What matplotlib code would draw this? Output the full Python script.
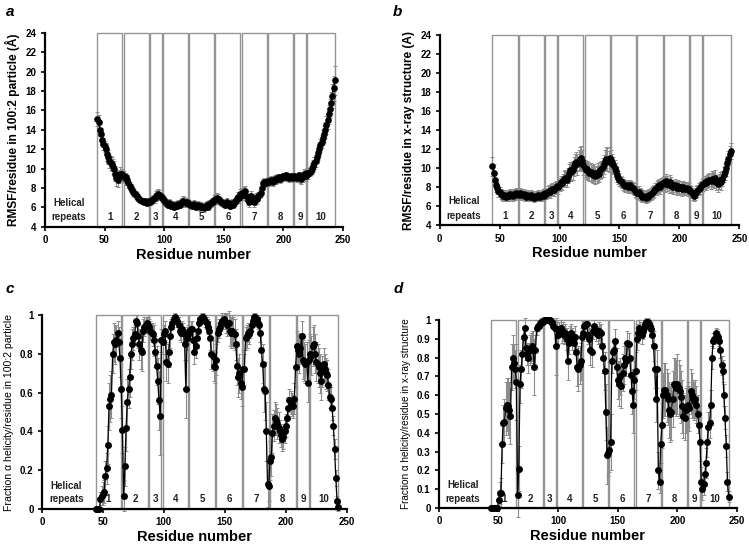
import matplotlib
matplotlib.use("Agg")
import matplotlib.pyplot as plt
from matplotlib.patches import Rectangle

plt.rcParams['font.family'] = ['Liberation Sans', 'DejaVu Sans']

# residues 44..243
residues = list(range(44, 244))

# helical repeat boundaries (first, last residue)
repeat_names = ['1', '2', '3', '4', '5', '6', '7', '8', '9', '10']
repeat_start = [44, 66, 88, 99, 121, 143, 165, 187, 209, 220]
repeat_end = [65, 87, 98, 120, 142, 164, 186, 208, 219, 243]

# a: RMSF per residue, 100:2 particle (A)
rmsf_particle = [
    15.1, 14.8, 14.0, 13.6, 13.0, 12.5, 12.3, 12.0, 11.5, 11.2,
    10.8, 10.6, 10.5, 10.2, 10.0, 9.5, 9.0, 8.8, 9.2, 9.5,
    9.3, 9.4, 9.2, 9.0, 9.1, 8.8, 8.5, 8.2, 8.0, 7.8,
    7.6, 7.5, 7.3, 7.2, 7.0, 6.9, 6.8, 6.7, 6.7, 6.6,
    6.7, 6.6, 6.5, 6.7, 6.6, 6.7, 6.8, 6.9, 7.0, 7.2,
    7.3, 7.4, 7.3, 7.2, 7.0, 6.9, 6.8, 6.6, 6.4, 6.3,
    6.5, 6.4, 6.2, 6.3, 6.1, 6.2, 6.3, 6.2, 6.4, 6.3,
    6.5, 6.6, 6.7, 6.6, 6.5, 6.6, 6.5, 6.4, 6.3, 6.2,
    6.3, 6.4, 6.2, 6.1, 6.3, 6.2, 6.0, 6.2, 6.1, 5.9,
    6.1, 6.2, 6.3, 6.1, 6.4, 6.5, 6.6, 6.6, 6.8, 6.9,
    7.0, 6.9, 6.8, 6.7, 6.6, 6.5, 6.4, 6.3, 6.5, 6.6,
    6.3, 6.2, 6.4, 6.5, 6.3, 6.6, 6.8, 6.9, 7.1, 7.0,
    7.4, 7.5, 7.3, 7.6, 7.7, 7.2, 6.8, 6.6, 7.0, 7.2,
    6.9, 6.6, 6.8, 7.0, 6.9, 7.2, 7.4, 7.5, 8.0, 8.5,
    8.6, 8.5, 8.6, 8.7, 8.6, 8.7, 8.8, 8.6, 8.8, 8.9,
    8.8, 9.0, 9.1, 8.9, 9.0, 9.1, 9.2, 9.1, 9.3, 9.2,
    9.1, 9.0, 9.2, 9.1, 9.0, 9.2, 9.1, 9.0, 9.2, 9.3,
    9.0, 8.9, 9.1, 9.5, 9.4, 9.2, 9.6, 9.4, 9.7, 9.8,
    10.0, 10.3, 10.6, 10.8, 11.2, 11.6, 12.0, 12.4, 12.8, 13.2,
    13.6, 14.0, 14.5, 15.0, 15.6, 16.2, 16.8, 17.5, 18.3, 19.1,
]
rmsf_particle_err = [
    0.7, 0.7, 0.6, 0.6, 0.6, 0.6, 0.6, 0.6, 0.7, 0.7,
    0.7, 0.7, 0.7, 0.8, 0.8, 0.8, 0.8, 0.7, 0.7, 0.7,
    0.6, 0.6, 0.6, 0.5, 0.5, 0.5, 0.5, 0.4, 0.4, 0.4,
    0.4, 0.4, 0.4, 0.4, 0.3, 0.3, 0.3, 0.3, 0.3, 0.3,
    0.3, 0.3, 0.3, 0.3, 0.3, 0.3, 0.4, 0.4, 0.5, 0.5,
    0.5, 0.5, 0.5, 0.4, 0.4, 0.4, 0.4, 0.4, 0.4, 0.4,
    0.4, 0.4, 0.4, 0.4, 0.4, 0.4, 0.4, 0.4, 0.4, 0.4,
    0.4, 0.4, 0.5, 0.5, 0.4, 0.4, 0.4, 0.4, 0.4, 0.4,
    0.4, 0.4, 0.4, 0.4, 0.4, 0.4, 0.4, 0.4, 0.4, 0.4,
    0.4, 0.4, 0.4, 0.4, 0.4, 0.4, 0.4, 0.4, 0.5, 0.5,
    0.5, 0.5, 0.4, 0.4, 0.4, 0.4, 0.4, 0.4, 0.4, 0.4,
    0.4, 0.4, 0.4, 0.4, 0.4, 0.4, 0.4, 0.4, 0.5, 0.5,
    0.5, 0.5, 0.5, 0.5, 0.5, 0.5, 0.5, 0.5, 0.5, 0.5,
    0.5, 0.5, 0.5, 0.5, 0.5, 0.4, 0.4, 0.4, 0.4, 0.4,
    0.4, 0.4, 0.4, 0.4, 0.4, 0.4, 0.4, 0.4, 0.4, 0.4,
    0.4, 0.4, 0.4, 0.4, 0.4, 0.4, 0.4, 0.4, 0.4, 0.4,
    0.4, 0.4, 0.4, 0.4, 0.4, 0.4, 0.4, 0.4, 0.4, 0.4,
    0.5, 0.5, 0.5, 0.5, 0.5, 0.5, 0.5, 0.5, 0.5, 0.5,
    0.6, 0.6, 0.6, 0.6, 0.6, 0.7, 0.7, 0.7, 0.7, 0.8,
    0.8, 0.8, 0.9, 0.9, 1.0, 1.0, 1.1, 1.2, 1.3, 1.5,
]

# b: RMSF per residue, x-ray structure (A)
rmsf_xray = [
    10.2, 9.5, 8.8, 8.2, 7.9, 7.6, 7.5, 7.3, 7.2, 7.1,
    7.2, 7.0, 7.1, 7.2, 7.1, 7.3, 7.2, 7.1, 7.3, 7.2,
    7.4, 7.3, 7.2, 7.4, 7.3, 7.2, 7.3, 7.1, 7.0, 7.2,
    7.1, 7.0, 7.2, 7.1, 7.0, 6.9, 7.1, 7.0, 7.2, 7.1,
    7.0, 7.2, 7.3, 7.1, 7.4, 7.3, 7.5, 7.6, 7.5, 7.7,
    7.8, 7.7, 7.9, 8.0, 8.1, 8.0, 8.3, 8.5, 8.4, 8.7,
    8.9, 9.0, 8.8, 9.2, 9.5, 9.8, 9.6, 9.8, 10.2, 10.5,
    10.7, 10.4, 10.8, 11.0, 11.1, 10.8, 10.3, 10.0, 9.8, 9.9,
    9.7, 9.5, 9.6, 9.4, 9.3, 9.5, 9.2, 9.3, 9.6, 9.4,
    9.8, 9.9, 10.1, 10.4, 10.8, 11.0, 10.9, 10.7, 11.1, 10.9,
    10.5, 10.3, 10.0, 9.7, 9.3, 9.0, 8.8, 8.6, 8.5, 8.3,
    8.2, 8.1, 8.2, 8.0, 8.1, 8.2, 8.0, 7.9, 7.8, 7.6,
    7.5, 7.4, 7.5, 7.3, 7.2, 7.0, 7.1, 7.0, 6.9, 7.1,
    7.0, 7.2, 7.3, 7.4, 7.5, 7.6, 7.8, 7.9, 8.1, 8.2,
    8.0, 8.3, 8.4, 8.5, 8.3, 8.6, 8.4, 8.2, 8.5, 8.3,
    8.1, 8.0, 8.2, 8.0, 7.9, 8.1, 7.9, 8.0, 7.8, 8.0,
    7.9, 7.8, 7.9, 7.7, 7.8, 7.6, 7.5, 7.3, 7.1, 7.3,
    7.5, 7.6, 7.8, 7.9, 8.1, 8.2, 8.3, 8.5, 8.4, 8.6,
    8.7, 8.8, 8.6, 8.9, 8.8, 8.7, 9.0, 8.5, 8.3, 8.6,
    8.8, 8.5, 8.9, 9.3, 9.6, 10.0, 10.5, 11.0, 11.5, 11.8,
]
rmsf_xray_err = [
    1.0, 0.9, 0.8, 0.7, 0.6, 0.6, 0.5, 0.5, 0.5, 0.5,
    0.5, 0.5, 0.5, 0.5, 0.5, 0.5, 0.5, 0.5, 0.5, 0.5,
    0.5, 0.5, 0.5, 0.5, 0.5, 0.5, 0.5, 0.5, 0.5, 0.5,
    0.5, 0.5, 0.5, 0.5, 0.5, 0.5, 0.5, 0.5, 0.5, 0.5,
    0.5, 0.5, 0.5, 0.5, 0.5, 0.5, 0.6, 0.6, 0.6, 0.6,
    0.6, 0.6, 0.6, 0.6, 0.6, 0.7, 0.7, 0.7, 0.7, 0.7,
    0.8, 0.8, 0.8, 0.8, 0.9, 0.9, 0.9, 1.0, 1.0, 1.0,
    1.0, 1.1, 1.1, 1.2, 1.2, 1.1, 1.0, 0.9, 0.9, 0.9,
    0.9, 0.9, 0.9, 0.9, 0.9, 0.9, 0.9, 0.9, 0.9, 0.9,
    0.9, 0.9, 1.0, 1.0, 1.1, 1.2, 1.2, 1.1, 1.1, 1.0,
    1.0, 0.9, 0.9, 0.8, 0.8, 0.7, 0.7, 0.6, 0.6, 0.6,
    0.6, 0.6, 0.6, 0.6, 0.6, 0.6, 0.6, 0.6, 0.6, 0.6,
    0.6, 0.6, 0.6, 0.6, 0.6, 0.6, 0.6, 0.6, 0.6, 0.6,
    0.6, 0.6, 0.6, 0.6, 0.6, 0.6, 0.6, 0.7, 0.7, 0.7,
    0.7, 0.7, 0.7, 0.7, 0.8, 0.8, 0.8, 0.8, 0.8, 0.8,
    0.7, 0.7, 0.7, 0.7, 0.7, 0.7, 0.7, 0.7, 0.7, 0.7,
    0.6, 0.6, 0.6, 0.6, 0.6, 0.6, 0.6, 0.6, 0.6, 0.6,
    0.6, 0.6, 0.6, 0.6, 0.6, 0.7, 0.7, 0.7, 0.7, 0.7,
    0.7, 0.7, 0.8, 0.8, 0.8, 0.8, 0.8, 0.8, 0.8, 0.8,
    0.8, 0.8, 0.8, 0.8, 0.8, 0.8, 0.8, 0.8, 0.8, 0.8,
]

# c: fraction alpha helicity, 100:2 particle
helix_particle = [
    0.0, 0.0, 0.0, 0.0, 0.05, 0.07, 0.08, 0.09, 0.17, 0.21,
    0.33, 0.53, 0.57, 0.59, 0.80, 0.86, 0.85, 0.87, 0.91, 0.86,
    0.78, 0.62, 0.41, 0.07, 0.22, 0.42, 0.55, 0.62, 0.68, 0.80,
    0.85, 0.88, 0.90, 0.97, 0.96, 0.89, 0.85, 0.82, 0.81, 0.92,
    0.94, 0.95, 0.96, 0.95, 0.94, 0.92, 0.91, 0.90, 0.87, 0.81,
    0.74, 0.66, 0.56, 0.48, 0.87, 0.86, 0.90, 0.92, 0.76, 0.75,
    0.81, 0.89, 0.94, 0.96, 0.98, 0.99, 0.98, 0.97, 0.95, 0.92,
    0.91, 0.93, 0.91, 0.85, 0.62, 0.88, 0.90, 0.92, 0.93, 0.93,
    0.87, 0.81, 0.84, 0.88, 0.92, 0.96, 0.98, 0.99, 0.99, 0.98,
    0.97, 0.96, 0.94, 0.92, 0.88, 0.80, 0.79, 0.74, 0.73, 0.77,
    0.91, 0.93, 0.94, 0.96, 0.97, 0.98, 0.97, 0.96, 0.95, 0.96,
    0.92, 0.91, 0.92, 0.91, 0.90, 0.85, 0.74, 0.68, 0.70, 0.65,
    0.63, 0.72, 0.72, 0.88, 0.89, 0.91, 0.90, 0.92, 0.95, 0.97,
    0.99, 0.99, 0.98, 0.96, 0.95, 0.91, 0.82, 0.75, 0.62, 0.61,
    0.40, 0.13, 0.12, 0.25, 0.27, 0.39, 0.43, 0.47, 0.46, 0.44,
    0.42, 0.40, 0.38, 0.36, 0.37, 0.40, 0.43, 0.47, 0.52, 0.56,
    0.55, 0.54, 0.53, 0.57, 0.73, 0.84, 0.82, 0.80, 0.83, 0.89,
    0.77, 0.76, 0.75, 0.76, 0.65, 0.77, 0.80, 0.79, 0.84, 0.85,
    0.80, 0.76, 0.75, 0.73, 0.70, 0.66, 0.71, 0.75, 0.72, 0.70,
    0.69, 0.64, 0.58, 0.57, 0.52, 0.43, 0.31, 0.16, 0.04, 0.01,
]
helix_particle_err = [
    0.0, 0.0, 0.0, 0.01, 0.04, 0.05, 0.06, 0.06, 0.08, 0.08,
    0.10, 0.12, 0.12, 0.12, 0.10, 0.10, 0.10, 0.08, 0.06, 0.08,
    0.10, 0.15, 0.12, 0.08, 0.10, 0.12, 0.12, 0.10, 0.10, 0.08,
    0.08, 0.06, 0.05, 0.03, 0.04, 0.06, 0.08, 0.10, 0.10, 0.06,
    0.05, 0.04, 0.03, 0.04, 0.04, 0.05, 0.05, 0.06, 0.08, 0.08,
    0.10, 0.12, 0.15, 0.20, 0.06, 0.06, 0.05, 0.05, 0.10, 0.10,
    0.08, 0.06, 0.04, 0.03, 0.02, 0.02, 0.02, 0.03, 0.04, 0.05,
    0.05, 0.04, 0.05, 0.08, 0.15, 0.06, 0.05, 0.05, 0.04, 0.04,
    0.06, 0.06, 0.06, 0.05, 0.04, 0.03, 0.02, 0.02, 0.02, 0.02,
    0.03, 0.03, 0.04, 0.05, 0.06, 0.08, 0.08, 0.08, 0.08, 0.08,
    0.05, 0.05, 0.04, 0.04, 0.04, 0.03, 0.04, 0.05, 0.06, 0.06,
    0.08, 0.08, 0.08, 0.08, 0.08, 0.08, 0.10, 0.10, 0.10, 0.08,
    0.10, 0.10, 0.08, 0.06, 0.06, 0.05, 0.05, 0.04, 0.03, 0.02,
    0.02, 0.02, 0.02, 0.03, 0.04, 0.05, 0.08, 0.10, 0.12, 0.15,
    0.15, 0.12, 0.08, 0.10, 0.10, 0.10, 0.08, 0.08, 0.08, 0.08,
    0.08, 0.06, 0.06, 0.06, 0.06, 0.06, 0.06, 0.06, 0.06, 0.06,
    0.06, 0.06, 0.06, 0.08, 0.10, 0.08, 0.08, 0.10, 0.08, 0.08,
    0.10, 0.10, 0.10, 0.10, 0.10, 0.10, 0.10, 0.10, 0.10, 0.10,
    0.10, 0.10, 0.10, 0.10, 0.10, 0.10, 0.08, 0.08, 0.08, 0.08,
    0.08, 0.08, 0.06, 0.06, 0.06, 0.05, 0.05, 0.04, 0.03, 0.02,
]

# d: fraction alpha helicity, x-ray structure
helix_xray = [
    0.0, 0.0, 0.0, 0.0, 0.0, 0.0, 0.04, 0.08, 0.08, 0.34,
    0.45, 0.46, 0.53, 0.55, 0.54, 0.52, 0.49, 0.75, 0.80, 0.77,
    0.74, 0.67, 0.07, 0.21, 0.66, 0.74, 0.82, 0.91, 0.96, 0.85,
    0.82, 0.80, 0.84, 0.85, 0.86, 0.84, 0.75, 0.84, 0.96, 0.97,
    0.97, 0.98, 0.99, 0.99, 1.0, 1.0, 1.0, 1.0, 1.0, 1.0,
    0.99, 0.99, 0.97, 0.96, 0.86, 0.95, 0.92, 0.95, 0.96, 0.93,
    0.94, 0.92, 0.93, 0.90, 0.78, 0.88, 0.92, 0.93, 0.90, 0.88,
    0.91, 0.83, 0.75, 0.74, 0.76, 0.78, 0.91, 0.93, 0.97, 0.98,
    0.98, 0.92, 0.90, 0.84, 0.83, 0.94, 0.97, 0.95, 0.93, 0.92,
    0.94, 0.93, 0.93, 0.86, 0.80, 0.73, 0.51, 0.28, 0.29, 0.31,
    0.35, 0.78, 0.83, 0.84, 0.89, 0.75, 0.68, 0.66, 0.70, 0.65,
    0.72, 0.76, 0.80, 0.78, 0.88, 0.87, 0.80, 0.71, 0.62, 0.55,
    0.68, 0.73, 0.90, 0.93, 0.96, 0.95, 0.92, 0.94, 0.96, 0.98,
    0.99, 0.99, 0.98, 0.97, 0.95, 0.92, 0.86, 0.74, 0.58, 0.74,
    0.20, 0.14, 0.34, 0.44, 0.60, 0.63, 0.63, 0.60, 0.58, 0.52,
    0.50, 0.51, 0.58, 0.66, 0.65, 0.64, 0.66, 0.64, 0.62, 0.59,
    0.54, 0.49, 0.48, 0.52, 0.53, 0.55, 0.53, 0.62, 0.60, 0.58,
    0.57, 0.58, 0.55, 0.50, 0.44, 0.35, 0.14, 0.10, 0.13, 0.18,
    0.24, 0.35, 0.43, 0.45, 0.55, 0.80, 0.89, 0.90, 0.93, 0.92,
    0.91, 0.89, 0.84, 0.76, 0.73, 0.60, 0.48, 0.33, 0.14, 0.06,
]
helix_xray_err = [
    0.0, 0.0, 0.0, 0.0, 0.0, 0.01, 0.03, 0.06, 0.08, 0.10,
    0.10, 0.12, 0.14, 0.14, 0.15, 0.15, 0.15, 0.12, 0.12, 0.10,
    0.10, 0.20, 0.12, 0.12, 0.10, 0.10, 0.08, 0.06, 0.05, 0.06,
    0.06, 0.08, 0.08, 0.08, 0.08, 0.10, 0.15, 0.08, 0.04, 0.03,
    0.02, 0.02, 0.02, 0.01, 0.01, 0.01, 0.01, 0.01, 0.01, 0.01,
    0.01, 0.02, 0.02, 0.02, 0.15, 0.05, 0.05, 0.04, 0.04, 0.05,
    0.05, 0.05, 0.05, 0.06, 0.10, 0.06, 0.05, 0.05, 0.06, 0.06,
    0.06, 0.08, 0.10, 0.12, 0.10, 0.10, 0.05, 0.04, 0.02, 0.02,
    0.02, 0.05, 0.06, 0.08, 0.08, 0.04, 0.03, 0.03, 0.04, 0.05,
    0.05, 0.05, 0.05, 0.06, 0.08, 0.10, 0.15, 0.15, 0.12, 0.12,
    0.15, 0.06, 0.06, 0.06, 0.06, 0.10, 0.10, 0.12, 0.10, 0.12,
    0.10, 0.10, 0.08, 0.08, 0.06, 0.06, 0.08, 0.10, 0.12, 0.15,
    0.10, 0.10, 0.06, 0.05, 0.04, 0.04, 0.05, 0.04, 0.03, 0.02,
    0.02, 0.02, 0.02, 0.03, 0.04, 0.05, 0.08, 0.10, 0.12, 0.10,
    0.10, 0.06, 0.10, 0.12, 0.12, 0.14, 0.14, 0.14, 0.14, 0.15,
    0.15, 0.15, 0.15, 0.14, 0.15, 0.15, 0.16, 0.15, 0.14, 0.14,
    0.14, 0.12, 0.12, 0.12, 0.12, 0.12, 0.12, 0.12, 0.12, 0.10,
    0.10, 0.10, 0.10, 0.10, 0.10, 0.10, 0.08, 0.06, 0.06, 0.06,
    0.08, 0.08, 0.08, 0.08, 0.08, 0.06, 0.04, 0.03, 0.03, 0.03,
    0.03, 0.03, 0.04, 0.05, 0.06, 0.06, 0.06, 0.06, 0.05, 0.03,
]


def draw_panel(ax, y, err, ylim, yticks, yticklabels, ylabel, ylabel_kw,
               text_y, ms):
    # helical repeat boxes
    for s, e, name in zip(repeat_start, repeat_end, repeat_names):
        ax.add_patch(Rectangle((s, ylim[0]), e - s, ylim[1] - ylim[0],
                               fill=False, edgecolor='#959595', lw=1.0,
                               zorder=1, clip_on=False))
        ax.text((s + e) / 2, text_y[0], name, ha='center', va='center',
                fontsize=7, fontweight='bold', color='#222222')
    ax.text(20, text_y[1], 'Helical', ha='center', va='center',
            fontsize=7, fontweight='bold', color='#222222')
    ax.text(20, text_y[0], 'repeats', ha='center', va='center',
            fontsize=7, fontweight='bold', color='#222222')

    ax.errorbar(residues, y, yerr=err, fmt='none', ecolor='#8c8c8c',
                elinewidth=0.8, capsize=1.5, capthick=0.7, zorder=2,
                clip_on=False)
    ax.plot(residues, y, '-', color='black', lw=0.9, zorder=3,
            clip_on=False)
    ax.plot(residues, y, 'o', color='black', ms=ms, zorder=4,
            clip_on=False, markeredgewidth=0)

    ax.set_xlim(0, 250)
    ax.set_ylim(*ylim)
    ax.set_xticks([0, 50, 100, 150, 200, 250])
    ax.set_yticks(yticks)
    ax.set_yticklabels(yticklabels)
    for sp in ['top', 'right']:
        ax.spines[sp].set_visible(False)
    for sp in ['left', 'bottom']:
        ax.spines[sp].set_linewidth(1.6)
    ax.tick_params(direction='out', length=3, width=1.2, labelsize=7,
                   pad=3)
    for lab in ax.get_xticklabels() + ax.get_yticklabels():
        lab.set_fontweight('bold')
    ax.set_xlabel('Residue number', fontsize=10.5, fontweight='bold',
                  labelpad=2)
    ax.set_ylabel(ylabel, **ylabel_kw)


fig = plt.figure(figsize=(7.49, 5.48), dpi=100)

ax_a = fig.add_axes([0.060, 0.586, 0.398, 0.354])
ax_b = fig.add_axes([0.587, 0.589, 0.400, 0.347])
ax_c = fig.add_axes([0.056, 0.071, 0.407, 0.354])
ax_d = fig.add_axes([0.586, 0.073, 0.398, 0.343])

rmsf_ticks = [4, 6, 8, 10, 12, 14, 16, 18, 20, 22, 24]
rmsf_labels = [str(t) for t in rmsf_ticks]

draw_panel(ax_a, rmsf_particle, rmsf_particle_err, (4, 24), rmsf_ticks,
           rmsf_labels, 'RMSF/residue in 100:2 particle (Å)',
           dict(fontsize=8.6, fontweight='bold', labelpad=4), (5.0, 6.5), 4.8)
draw_panel(ax_b, rmsf_xray, rmsf_xray_err, (4, 24), rmsf_ticks,
           rmsf_labels, 'RMSF/residue in x-ray structure (A)',
           dict(fontsize=8.6, fontweight='bold', labelpad=4), (5.0, 6.5), 4.8)

c_ticks = [0, 0.2, 0.4, 0.6, 0.8, 1.0]
c_labels = ['0', '0.2', '0.4', '0.6', '0.8', '1']
draw_panel(ax_c, helix_particle, helix_particle_err, (0, 1), c_ticks,
           c_labels, 'Fraction α helicity/residue in 100:2 particle',
           dict(fontsize=7.6, labelpad=4), (0.05, 0.12), 5)

d_ticks = [0, 0.1, 0.2, 0.3, 0.4, 0.5, 0.6, 0.7, 0.8, 0.9, 1.0]
d_labels = ['0', '0.1', '0.2', '0.3', '0.4', '0.5', '0.6', '0.7', '0.8',
            '0.9', '1']
draw_panel(ax_d, helix_xray, helix_xray_err, (0, 1), d_ticks,
           d_labels, 'Fraction α helicity/residue in x-ray structure',
           dict(fontsize=7.2, labelpad=4), (0.05, 0.12), 5)

for lbl, (x, y) in zip(['a', 'b', 'c', 'd'],
                       [(0.008, 0.978), (0.525, 0.978),
                        (0.008, 0.472), (0.525, 0.472)]):
    fig.text(x, y, lbl, fontsize=11, fontweight='bold', style='italic',
             ha='left', va='center')

fig.savefig('out.png', dpi=100)
